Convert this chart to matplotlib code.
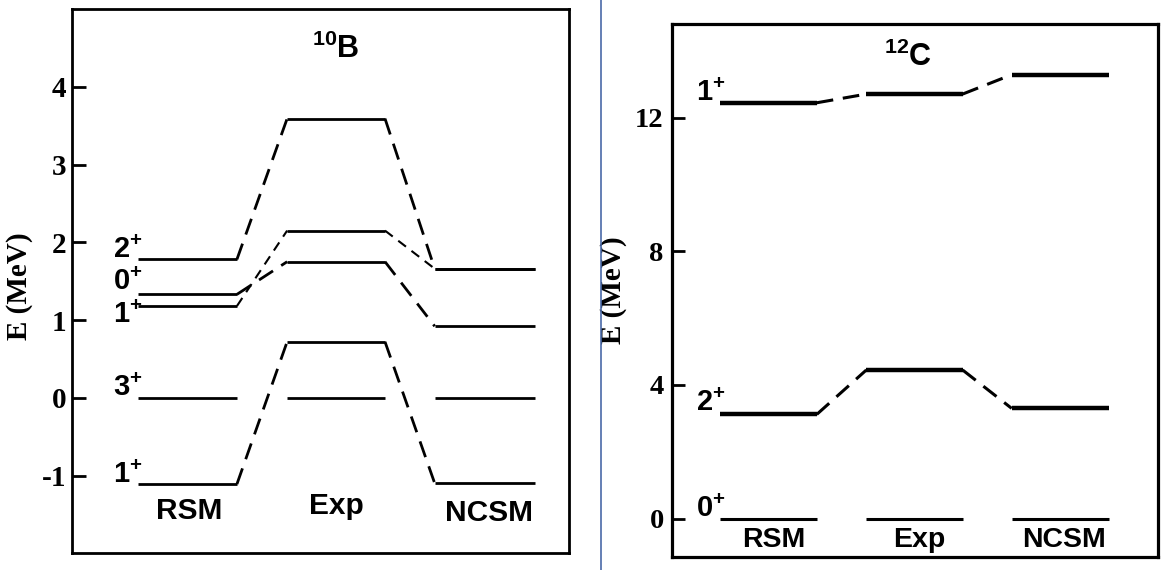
import matplotlib
matplotlib.use("Agg")
import matplotlib.pyplot as plt
from matplotlib.lines import Line2D

plt.rcParams['mathtext.fontset'] = 'custom'
plt.rcParams['mathtext.rm'] = 'Liberation Sans:bold'
plt.rcParams['mathtext.bf'] = 'Liberation Sans:bold'
plt.rcParams['axes.unicode_minus'] = False
plt.rcParams['lines.scale_dashes'] = False

# columns of each level scheme
columns = ["RSM", "Exp", "NCSM"]

# 10B levels (MeV): RSM, Exp, NCSM for each state
b10_states = ["3+", "1+", "0+", "1+", "2+"]
b10_energies = [
    [0.0, 0.0, 0.0],
    [-1.11, 0.72, -1.10],
    [1.33, 1.75, 0.92],
    [1.18, 2.15, 1.66],
    [1.78, 3.59, 1.66],
]
b10_linked = [False, True, True, True, True]
b10_thin = [False, False, False, True, False]
b10_labels = [r"$\mathbf{3^{+}}$", r"$\mathbf{1^{+}}$", r"$\mathbf{0^{+}}$",
              r"$\mathbf{1^{+}}$", r"$\mathbf{2^{+}}$"]
b10_label_y = [0.02, -1.10, 1.39, 0.96, 1.80]
b10_ticks = [-1, 0, 1, 2, 3, 4]

# 12C levels (MeV)
c12_states = ["0+", "2+", "1+"]
c12_energies = [
    [0.0, 0.0, 0.0],
    [3.12, 4.45, 3.30],
    [12.45, 12.71, 13.29],
]
c12_linked = [False, True, True]
c12_labels = [r"$\mathbf{0^{+}}$", r"$\mathbf{2^{+}}$", r"$\mathbf{1^{+}}$"]
c12_label_y = [0.05, 3.22, 12.52]
c12_ticks = [0, 4, 8, 12]

fig = plt.figure(figsize=(11.66, 5.70), dpi=100)

serif_bold = dict(family="Liberation Serif", weight="bold")
sans_bold = dict(family="Liberation Sans", weight="bold")


def draw_scheme(ax, spans, energies, linked, lw_level, lw_dash, thin=None, lw_levels=None):
    for i, E in enumerate(energies):
        lw = lw_levels[i] if lw_levels else lw_level
        for (x0, x1), e in zip(spans, E):
            ax.plot([x0, x1], [e, e], color="black", lw=lw, solid_capstyle="butt")
        if not linked[i]:
            continue
        if thin is not None and thin[i]:
            lwd, dash = lw_dash * 0.75, (7, 5)
        else:
            lwd, dash = lw_dash, (12, 7)
        for k in range(len(spans) - 1):
            ax.plot([spans[k][1], spans[k + 1][0]], [E[k], E[k + 1]],
                    color="black", lw=lwd, dashes=dash, dash_capstyle="butt")


# ---- left panel: 10B ----
ax1 = fig.add_axes([0.0617, 0.0293, 0.4262, 0.9549])
spans1 = [(0.133, 0.332), (0.433, 0.630), (0.730, 0.932)]
draw_scheme(ax1, spans1, b10_energies, b10_linked, 2.0, 2.0, thin=b10_thin)
ax1.set_xlim(0, 1)
ax1.set_ylim(-2, 5)
ax1.set_xticks([])
ax1.set_yticks(b10_ticks)
ax1.set_yticklabels([str(t) for t in b10_ticks], fontsize=21, **serif_bold)
ax1.tick_params(axis="y", direction="in", length=10, width=2, pad=4)
for s in ax1.spines.values():
    s.set_linewidth(2)
ax1.set_ylabel("E (MeV)", fontsize=21, **serif_bold)
ax1.yaxis.set_label_coords(-0.078, 0.49)
for lab, y in zip(b10_labels, b10_label_y):
    ax1.text(spans1[0][0] + 0.01, y, lab, fontsize=21, ha="right", va="baseline")
for x, y, name in zip([0.235, 0.533, 0.84], [-1.56, -1.49, -1.59], columns):
    ax1.text(x, y, name, fontsize=21.5, ha="center", va="baseline", **sans_bold)
ax1.text(0.53, 4.37, r"$\mathbf{^{10}B}$", fontsize=22, ha="center", va="baseline")

# ---- right panel: 12C ----
ax2 = fig.add_axes([0.5763, 0.0228, 0.4168, 0.9346])
spans2 = [(0.099, 0.298), (0.40, 0.598), (0.699, 0.90)]
draw_scheme(ax2, spans2, c12_energies, c12_linked, 3.0, 2.2, lw_levels=[2.2, 3.2, 3.2])
ax2.set_xlim(0, 1)
ax2.set_ylim(-1.15, 14.8)
ax2.set_xticks([])
ax2.set_yticks(c12_ticks)
ax2.set_yticklabels([str(t) for t in c12_ticks], fontsize=20.5, **serif_bold)
ax2.tick_params(axis="y", direction="in", length=9, width=2, pad=6)
for s in ax2.spines.values():
    s.set_linewidth(2.3)
ax2.set_ylabel("E (MeV)", fontsize=21, **serif_bold)
ax2.yaxis.set_label_coords(-0.093, 0.50)
for lab, y in zip(c12_labels, c12_label_y):
    ax2.text(spans2[0][0] + 0.012, y, lab, fontsize=21, ha="right", va="baseline")
for x, name in zip([0.21, 0.509, 0.807], columns):
    ax2.text(x, -0.86, name, fontsize=20.5, ha="center", va="baseline", **sans_bold)
ax2.text(0.486, 13.54, r"$\mathbf{^{12}C}$", fontsize=22, ha="center", va="baseline")

# thin blue separator between the two panels
fig.add_artist(Line2D([0.5154, 0.5154], [0, 1], transform=fig.transFigure,
                      color="#4a6aa8", lw=1.2))

plt.savefig("out.png", dpi=100)
